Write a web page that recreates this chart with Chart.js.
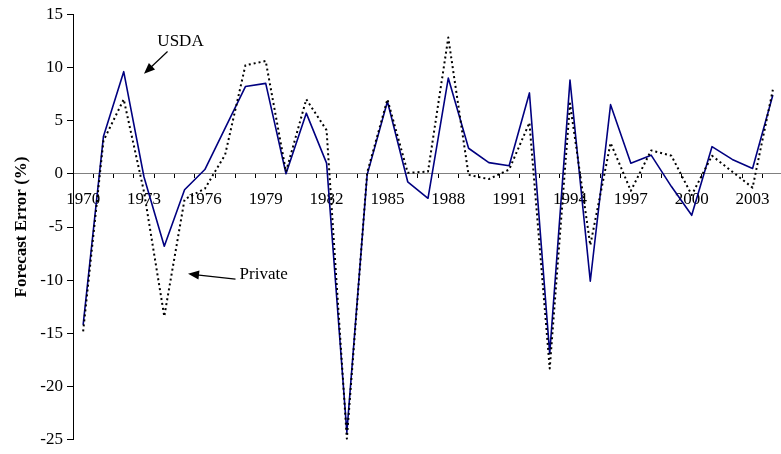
<!DOCTYPE html>
<html>
<head>
<meta charset="utf-8">
<script src="https://cdn.jsdelivr.net/npm/chart.js@4/dist/chart.umd.min.js"></script>
<style>
  html, body { margin: 0; padding: 0; background: #fff; overflow: hidden; }
  #wrap { width: 793px; height: 454px; position: relative; }
</style>
</head>
<body>
<div id="wrap"><canvas id="errChart"></canvas></div>
<script>
// Forecast errors (%), 1970-2004
const years = [];
for (let y = 1970; y <= 2004; y++) years.push(String(y));

const usdaErr = [-14.2, 3.5, 9.6, -0.3, -6.8, -1.5, 0.4, 4.3, 8.2, 8.5,
                 0.0, 5.7, 1.0, -24.3, -0.1, 6.8, -0.75, -2.3, 9.0, 2.4,
                 1.05, 0.75, 7.6, -16.9, 8.8, -10.1, 6.5, 1.0, 1.75, -1.2,
                 -3.9, 2.55, 1.35, 0.5, 7.4];

const privateErr = [-14.8, 3.1, 7.0, -1.7, -13.4, -2.4, -1.4, 1.8, 10.2, 10.6,
                    0.2, 7.0, 4.1, -24.9, 0.1, 7.0, 0.1, 0.2, 12.8, -0.1,
                    -0.5, 0.4, 4.8, -18.3, 6.6, -6.7, 2.9, -1.6, 2.2, 1.7,
                    -2.0, 1.7, 0.2, -1.3, 7.9];

const yTicks = [-25, -20, -15, -10, -5, 0, 5, 10, 15];

// annotation labels placed in data space: [text, textIdx, textVal, fromIdx, fromVal, toIdx, toVal]
const notes = [
    ["USDA", 4.8, 12.4, 4.16, 11.5, 3.0, 9.4],
    ["Private", 8.9, -9.5, 7.51, -9.9, 5.17, -9.4]
];

const FONT = "'Liberation Serif', 'Times New Roman', serif";

function arrow(ctx, x1, y1, x2, y2) {
    const ang = Math.atan2(y2 - y1, x2 - x1);
    const hl = 11, hw = 4.5;
    ctx.beginPath();
    ctx.moveTo(x1, y1);
    ctx.lineTo(x2 - Math.cos(ang) * hl * 0.8, y2 - Math.sin(ang) * hl * 0.8);
    ctx.stroke();
    ctx.beginPath();
    ctx.moveTo(x2, y2);
    ctx.lineTo(x2 - hl * Math.cos(ang) + hw * Math.sin(ang), y2 - hl * Math.sin(ang) - hw * Math.cos(ang));
    ctx.lineTo(x2 - hl * Math.cos(ang) - hw * Math.sin(ang), y2 - hl * Math.sin(ang) + hw * Math.cos(ang));
    ctx.closePath();
    ctx.fill();
}

const notePlugin = {
    id: 'notes',
    afterDatasetsDraw(chart) {
        const ctx = chart.ctx;
        const xs = chart.scales.x, ys = chart.scales.y;
        ctx.save();
        ctx.fillStyle = '#000';
        ctx.strokeStyle = '#000';
        ctx.lineWidth = 1.2;
        ctx.font = `17px ${FONT}`;
        ctx.textAlign = 'center';
        ctx.textBaseline = 'middle';
        notes.forEach(n => {
            ctx.fillText(n[0], xs.getPixelForValue(n[1]), ys.getPixelForValue(n[2]));
            arrow(ctx, xs.getPixelForValue(n[3]), ys.getPixelForValue(n[4]),
                       xs.getPixelForValue(n[5]), ys.getPixelForValue(n[6]));
        });
        ctx.restore();
    }
};

new Chart(document.getElementById('errChart'), {
    type: 'line',
    data: {
        labels: years,
        datasets: [
            {
                label: 'Private',
                data: privateErr,
                borderColor: '#000',
                borderWidth: 2,
                borderDash: [2, 3],
                borderJoinStyle: 'round',
                pointRadius: 0,
                tension: 0,
                order: 0
            },
            {
                label: 'USDA',
                data: usdaErr,
                borderColor: '#000080',
                borderWidth: 1.6,
                borderJoinStyle: 'round',
                pointRadius: 0,
                tension: 0,
                order: 1
            }
        ]
    },
    options: {
        responsive: true,
        maintainAspectRatio: false,
        animation: false,
        layout: { padding: { top: 12, right: 10, bottom: 13, left: 0 } },
        plugins: {
            legend: { display: false },
            tooltip: { enabled: false }
        },
        scales: {
            x: {
                type: 'category',
                position: { y: 0 },
                offset: true,
                grid: {
                    offset: true,
                    drawOnChartArea: false,
                    tickLength: 4,
                    color: '#000'
                },
                border: { color: '#808080', width: 1 },
                ticks: {
                    autoSkip: false,
                    maxRotation: 0,
                    padding: 12,
                    color: '#000',
                    font: { family: FONT, size: 17 },
                    callback: (v, i) => (i % 3 === 0 ? years[i] : '')
                }
            },
            y: {
                min: -25,
                max: 15,
                afterFit: s => { s.width = 73; },
                afterBuildTicks: s => { s.ticks = yTicks.map(v => ({ value: v })); },
                grid: { drawOnChartArea: false, tickLength: 6, color: '#000' },
                border: { color: '#000', width: 1 },
                ticks: {
                    padding: 4,
                    color: '#000',
                    font: { family: FONT, size: 17 }
                },
                title: {
                    display: true,
                    text: 'Forecast Error (%)',
                    color: '#000',
                    padding: { top: 11, bottom: 0 },
                    font: { family: FONT, size: 17, weight: 'bold' }
                }
            }
        }
    },
    plugins: [notePlugin]
});
</script>
</body>
</html>
